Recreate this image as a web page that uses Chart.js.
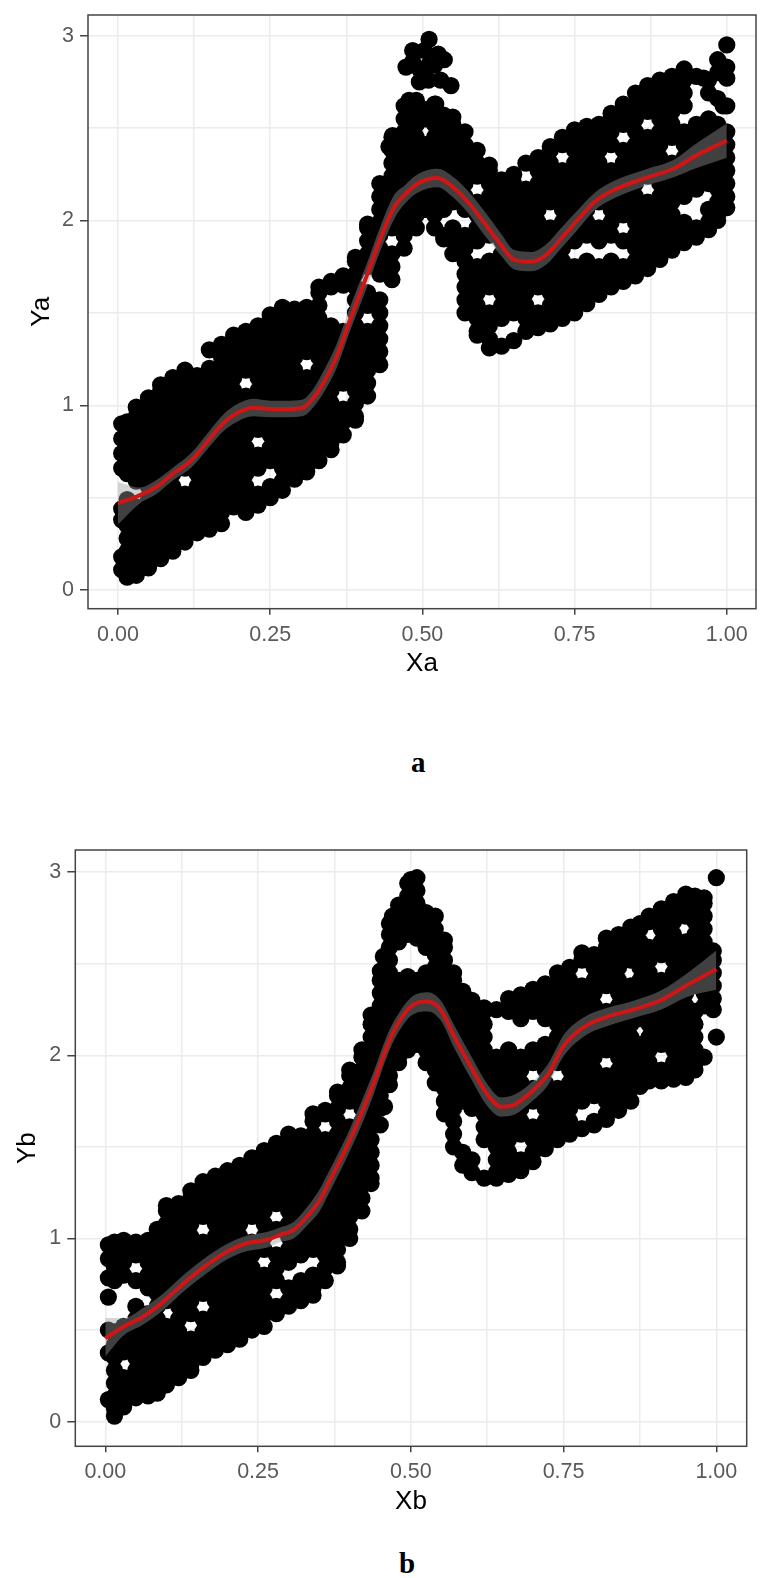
<!DOCTYPE html>
<html>
<head>
<meta charset="utf-8">
<script src="https://cdn.jsdelivr.net/npm/chart.js@4"></script>
<style>
html, body { margin: 0; background: #fff; }
body { position: relative; width: 761px; height: 1578px; overflow: hidden; }
canvas { position: absolute; left: 0; }
.cap { position: absolute; font: bold 29px "Liberation Serif", serif; color: #000; line-height: 32px; }
</style>
</head>
<body>
<canvas id="chartA" style="top:0"></canvas>
<canvas id="chartB" style="top:800px"></canvas>
<div class="cap" style="left:411px;top:746px">a</div>
<div class="cap" style="left:399px;top:1547px">b</div>
<script>
// ticks (same for both panels)
const xTicks = [0, .125, .25, .375, .5, .625, .75, .875, 1];
const xMajor = [0, .25, .5, .75, 1];
const yTicks = [0, .5, 1, 1.5, 2, 2.5, 3];
const yMajor = [0, 1, 2, 3];

// the dots merge into a solid cloud, so each row is [x, y, y, y...] read off the
// outline and the white gaps; values inside the black are estimates
const rowsA = [
[.006,.11,.18,.38,.44,.66,.74,.82,.9],
[.015,.07,.14,.21,.28,.35,.42,.49,.63,.7,.77,.84,.91],
[.03,.08,.1,.17,.24,.31,.38,.45,.59,.66,.73,.8,.87,.94,.99],
[.05,.12,.14,.21,.28,.35,.42,.49,.56,.63,.7,.77,.84,.91,.98,1.04],
[.07,.17,.24,.31,.38,.45,.52,.59,.66,.73,.8,.87,.94,1.01,1.08,1.11],
[.09,.21,.28,.35,.42,.49,.56,.63,.7,.77,.84,.91,.98,1.05,1.12,1.15],
[.11,.26,.31,.38,.45,.52,.66,.73,.8,.87,.94,1.01,1.08,1.15,1.19],
[.13,.31,.35,.42,.49,.56,.63,.7,.77,.84,.91,.98,1.05,1.12,1.16],
[.15,.33,.38,.45,.52,.59,.66,.73,.8,.87,.94,1.01,1.08,1.15,1.2,1.3],
[.17,.36,.42,.49,.56,.63,.7,.77,.84,.91,.98,1.05,1.12,1.19,1.26,1.33],
[.19,.45,.52,.59,.66,.73,.8,.87,.94,1.01,1.08,1.15,1.22,1.29,1.36,1.38],
[.21,.42,.49,.56,.63,.7,.77,.84,.91,.98,1.05,1.19,1.26,1.33,1.4],
[.23,.46,.52,.66,.73,.87,.94,1.01,1.08,1.15,1.22,1.29,1.36,1.43],
[.25,.5,.56,.7,.77,.84,.91,.98,1.05,1.12,1.19,1.26,1.33,1.4,1.47,1.49],
[.27,.54,.59,.66,.73,.8,.87,.94,1.01,1.08,1.15,1.22,1.29,1.36,1.43,1.5,1.53],
[.29,.6,.63,.7,.77,.84,.91,.98,1.05,1.12,1.19,1.26,1.33,1.4,1.47,1.52],
[.31,.64,.66,.73,.8,.87,.94,1.01,1.08,1.15,1.29,1.36,1.43,1.5,1.53],
[.33,.7,.77,.84,.91,.98,1.05,1.12,1.19,1.26,1.33,1.4,1.47,1.54,1.61,1.64],
[.35,.76,.8,.87,.94,1.01,1.08,1.15,1.22,1.29,1.36,1.43,1.64,1.67],
[.37,.84,.91,.98,1.12,1.19,1.26,1.33,1.4,1.65,1.7],
[.39,.92,.94,1.01,1.08,1.15,1.22,1.29,1.36,1.43,1.5,1.57,1.64,1.71,1.78,1.8],
[.41,1.05,1.12,1.19,1.26,1.33,1.4,1.54,1.61,1.75,1.82,1.89,1.96,1.98],
[.43,1.22,1.29,1.36,1.43,1.5,1.57,1.71,1.78,1.85,1.92,1.99,2.06,2.13,2.2],
[.45,1.68,1.75,1.82,1.96,2.03,2.1,2.17,2.24,2.31,2.38,2.45],
[.47,1.85,1.92,1.99,2.06,2.13,2.2,2.27,2.34,2.41,2.48,2.55,2.62],
[.49,1.96,2.03,2.1,2.17,2.24,2.31,2.38,2.45,2.52,2.59,2.65],
[.505,2.06,2.13,2.2,2.27,2.34,2.41,2.55,2.6],
[.52,1.96,2.03,2.1,2.17,2.24,2.31,2.38,2.45,2.52,2.59,2.63],
[.535,1.9,1.92,2.06,2.13,2.2,2.27,2.34,2.41,2.48,2.55,2.57],
[.55,1.82,1.89,1.96,2.1,2.17,2.24,2.31,2.38,2.45,2.52,2.56],
[.57,1.5,1.57,1.64,1.71,1.78,1.85,1.92,2.06,2.13,2.2,2.27,2.34,2.41,2.48],
[.59,1.38,1.4,1.47,1.54,1.61,1.68,1.75,1.89,1.96,2.03,2.1,2.24,2.31,2.38],
[.61,1.31,1.36,1.43,1.5,1.64,1.71,1.78,1.92,1.99,2.06,2.13,2.2,2.27,2.3],
[.63,1.32,1.47,1.54,1.61,1.68,1.75,1.82,1.89,1.96,2.03,2.1,2.17,2.22],
[.65,1.35,1.5,1.57,1.64,1.71,1.78,1.85,1.92,1.99,2.06,2.13,2.2,2.25],
[.67,1.4,1.47,1.54,1.61,1.68,1.75,1.82,1.89,1.96,2.03,2.1,2.17,2.31],
[.69,1.42,1.5,1.64,1.71,1.78,1.85,1.92,1.99,2.06,2.13,2.2,2.27,2.34],
[.71,1.44,1.47,1.54,1.61,1.68,1.75,1.82,1.89,1.96,2.1,2.17,2.24,2.31,2.38,2.4],
[.73,1.47,1.5,1.57,1.64,1.71,1.78,1.85,1.92,1.99,2.06,2.13,2.2,2.27,2.41,2.45],
[.75,1.5,1.54,1.61,1.68,1.75,1.89,1.96,2.03,2.1,2.17,2.24,2.31,2.38,2.45,2.49],
[.77,1.55,1.57,1.64,1.71,1.78,1.92,1.99,2.06,2.13,2.2,2.27,2.34,2.41,2.48,2.51],
[.79,1.6,1.61,1.68,1.75,1.89,1.96,2.1,2.17,2.24,2.31,2.38,2.45,2.52],
[.81,1.64,1.71,1.78,1.92,1.99,2.06,2.13,2.2,2.27,2.41,2.48,2.55,2.58],
[.83,1.67,1.75,1.89,2.03,2.1,2.17,2.24,2.31,2.38,2.52,2.59,2.63],
[.85,1.7,1.78,1.85,1.92,1.99,2.06,2.13,2.2,2.27,2.34,2.41,2.48,2.55,2.62,2.69],
[.87,1.74,1.82,1.89,1.96,2.03,2.1,2.24,2.31,2.38,2.45,2.59,2.66,2.73],
[.89,1.79,1.85,1.92,1.99,2.06,2.13,2.2,2.27,2.34,2.41,2.48,2.55,2.62,2.69,2.76],
[.91,1.84,1.89,1.96,2.03,2.1,2.17,2.24,2.31,2.45,2.52,2.59,2.66,2.73,2.78],
[.93,1.88,1.92,1.99,2.13,2.2,2.27,2.34,2.41,2.48,2.62,2.69,2.76,2.82],
[.95,1.91,1.96,2.17,2.24,2.31,2.38,2.45,2.52,2.78],
[.97,1.95,1.99,2.06,2.2,2.27,2.34,2.41,2.48,2.55,2.69,2.76],
[.985,2,2.03,2.1,2.17,2.24,2.31,2.38,2.45,2.52,2.66,2.8,2.87],
[1,2.07,2.13,2.2,2.27,2.34,2.41,2.48,2.62,2.77,2.83,2.95],
// peak
[.473,2.83],[.484,2.92,2.86],[.495,2.75,2.82],[.503,2.92],[.51,2.76,2.84],[.511,2.98],[.52,2.84],[.526,2.9],[.536,2.87],
[.53,2.76],[.547,2.73],[.478,2.65],[.522,2.63],[.445,2.4],[.451,2.46],[.962,2.77],[.994,2.62]
];

const rowsB = [
[.005,.12,.375,.5,.68,.785,.89,.965],
[.015,.03,.07,.14,.21,.28,.35,.42,.49,.77,.84,.91,.98],
[.03,.08,.1,.17,.24,.38,.45,.52,.8,.87,.94,.99],
[.05,.13,.14,.21,.28,.35,.42,.49,.56,.63,.77,.91,.98],
[.07,.14,.17,.24,.31,.38,.45,.52,.59,.73,.8,.87,.94,.99],
[.085,.155,.21,.28,.35,.42,.49,.56,.63,.7,.77,.84,.91,.98,1.05],
[.1,.2,.24,.31,.38,.45,.52,.66,.73,.8,.87,.94,1.01,1.08,1.15,1.18],
[.12,.24,.28,.35,.42,.49,.56,.63,.7,.77,.84,.91,.98,1.05,1.12,1.19],
[.14,.28,.31,.38,.45,.59,.66,.73,.8,.87,.94,1.01,1.08,1.15,1.22,1.26],
[.16,.35,.42,.49,.56,.7,.77,.84,.91,.98,1.12,1.19,1.26,1.31],
[.18,.39,.45,.52,.59,.66,.73,.8,.87,.94,1.01,1.08,1.15,1.22,1.29,1.34],
[.2,.42,.49,.56,.63,.7,.77,.84,.91,.98,1.05,1.12,1.19,1.26,1.33,1.37],
[.22,.45,.52,.59,.66,.73,.8,.87,.94,1.01,1.08,1.15,1.22,1.29,1.36,1.4],
[.24,.5,.56,.63,.7,.77,.84,.91,.98,1.12,1.19,1.26,1.33,1.4,1.44],
[.26,.52,.59,.66,.73,.8,.94,1.01,1.08,1.15,1.22,1.29,1.36,1.43,1.48],
[.28,.59,.63,.77,.84,.91,1.05,1.19,1.26,1.33,1.4,1.47,1.52],
[.3,.63,.66,.73,.87,.94,1.01,1.08,1.15,1.22,1.29,1.36,1.43,1.5,1.57],
[.32,.66,.7,.77,.91,.98,1.05,1.12,1.19,1.26,1.33,1.4,1.47,1.54,1.56],
[.34,.69,.73,.8,.94,1.01,1.08,1.15,1.22,1.29,1.36,1.43,1.5,1.57,1.64,1.68],
[.36,.77,.84,.91,.98,1.05,1.12,1.19,1.26,1.33,1.4,1.47,1.54,1.68,1.7],
[.38,.85,.87,.94,1.01,1.08,1.15,1.22,1.29,1.36,1.43,1.5,1.57,1.64,1.71,1.78,1.8],
[.4,1,1.05,1.12,1.19,1.26,1.33,1.4,1.47,1.54,1.61,1.75,1.82,1.89,1.92],
[.42,1.15,1.22,1.29,1.36,1.43,1.5,1.57,1.64,1.71,1.78,1.85,1.92,1.99,2.03],
[.435,1.3,1.33,1.4,1.47,1.54,1.61,1.68,1.75,1.82,1.89,1.96,2.03,2.1,2.17,2.22],
[.45,1.62,1.71,1.78,1.85,1.92,1.99,2.06,2.13,2.2,2.27,2.34,2.41,2.46],
[.465,1.84,1.89,1.96,2.03,2.1,2.17,2.24,2.31,2.38,2.45,2.52,2.59,2.66,2.72],
[.48,1.96,1.99,2.06,2.13,2.2,2.27,2.34,2.41,2.62,2.69,2.76,2.82],
[.495,2.03,2.1,2.17,2.24,2.31,2.38,2.43,2.66,2.73,2.8,2.87,2.94],
[.51,2.06,2.13,2.2,2.27,2.34,2.41,2.64,2.69,2.76,2.83,2.9,2.97],
[.525,1.96,2.03,2.1,2.17,2.24,2.31,2.38,2.45,2.59,2.66,2.73,2.78],
[.54,1.85,1.92,1.99,2.06,2.13,2.2,2.27,2.34,2.41,2.48,2.55,2.62,2.69,2.76],
[.555,1.68,1.75,1.82,1.89,1.96,2.03,2.1,2.17,2.24,2.31,2.38,2.45,2.52,2.59,2.63],
[.57,1.5,1.57,1.64,1.71,1.78,1.85,1.92,1.99,2.06,2.13,2.2,2.27,2.34,2.41,2.45],
[.585,1.4,1.47,1.75,1.82,1.89,1.96,2.03,2.1,2.17,2.24,2.31,2.35],
[.6,1.36,1.43,1.71,1.78,1.85,1.92,1.99,2.06,2.13,2.2,2.27,2.3],
[.62,1.33,1.54,1.61,1.68,1.75,1.82,1.89,1.96,2.03,2.1,2.17,2.24,2.26],
[.64,1.33,1.36,1.43,1.5,1.57,1.64,1.71,1.78,1.85,1.92,1.99,2.25],
[.66,1.35,1.4,1.47,1.54,1.61,1.68,1.75,1.82,1.89,1.96,2.03,2.24,2.31],
[.68,1.37,1.43,1.57,1.64,1.71,1.78,1.85,1.92,1.99,2.2,2.27,2.33],
[.7,1.42,1.47,1.54,1.61,1.75,1.82,1.96,2.03,2.24,2.31,2.36],
[.72,1.49,1.57,1.64,1.71,1.78,1.85,1.92,1.99,2.06,2.2,2.27,2.34,2.39],
[.74,1.54,1.61,1.68,1.75,1.82,1.96,2.03,2.1,2.17,2.24,2.31,2.38,2.45],
[.76,1.57,1.64,1.71,1.78,1.85,1.92,1.99,2.06,2.13,2.2,2.27,2.34,2.41,2.48],
[.78,1.6,1.75,1.82,1.89,1.96,2.03,2.1,2.17,2.24,2.31,2.38,2.52,2.56],
[.8,1.62,1.64,1.78,1.85,1.92,1.99,2.06,2.13,2.2,2.27,2.34,2.41,2.48,2.55],
[.82,1.65,1.68,1.75,1.82,1.89,2.03,2.1,2.17,2.24,2.38,2.45,2.52,2.59,2.64],
[.84,1.7,1.78,1.85,1.92,1.99,2.06,2.13,2.2,2.27,2.34,2.41,2.48,2.55,2.62,2.66],
[.86,1.75,1.82,1.89,1.96,2.03,2.1,2.17,2.24,2.31,2.38,2.52,2.59,2.66,2.7],
[.875,1.83,1.85,1.92,1.99,2.06,2.2,2.27,2.34,2.41,2.48,2.55,2.62,2.69,2.72],
[.89,1.86,1.89,1.96,2.03,2.1,2.17,2.24,2.31,2.38,2.45,2.52,2.59,2.73,2.76],
[.91,1.86,1.92,2.06,2.13,2.2,2.27,2.34,2.41,2.55,2.62,2.69,2.76,2.8],
[.93,1.87,1.89,1.96,2.03,2.1,2.17,2.24,2.31,2.38,2.45,2.52,2.59,2.66,2.73,2.8,2.84],
[.95,1.88,1.92,1.99,2.06,2.13,2.2,2.27,2.34,2.41,2.48,2.55,2.62,2.76,2.83,2.88],
[.965,1.92,1.96,2.03,2.1,2.17,2.24,2.38,2.45,2.52,2.59,2.66,2.73,2.8,2.87],
[.98,1.99,2.27,2.34,2.41,2.48,2.55,2.62,2.69,2.76,2.83,2.86],
[.995,2.25,2.31,2.38,2.45,2.52,2.57],
[1,2.1,2.97],
// peak edge
[.5,2.96],[.457,1.72],[.455,2.54],[.47,2.76]
];

// smooth fit and its band, panel a
const fitXa = [0,.036,.063,.091,.121,.151,.173,.195,.222,.25,.277,.302,.321,.34,.359,.381,.408,.43,.454,.471,.492,.525,.547,.575,.602,.629,.651,.679,.703,.728,.755,.783,.815,.865,.914,.947,1];
const fitYa = [.469,.514,.559,.632,.704,.821,.904,.957,.987,.98,.98,.985,1.04,1.137,1.263,1.462,1.696,1.895,2.075,2.139,2.2,2.23,2.19,2.1,1.986,1.868,1.787,1.778,1.814,1.904,2.003,2.102,2.166,2.229,2.283,2.347,2.433];
const hiYa = [.585,.555,.595,.665,.745,.865,.95,1.005,1.035,1.025,1.025,1.03,1.09,1.2,1.33,1.53,1.76,1.96,2.14,2.19,2.25,2.28,2.245,2.16,2.05,1.93,1.84,1.83,1.87,1.96,2.055,2.15,2.215,2.275,2.33,2.41,2.525];
const loYa = [.355,.47,.52,.595,.665,.78,.86,.91,.94,.935,.935,.94,.99,1.08,1.2,1.4,1.63,1.83,2.01,2.09,2.15,2.18,2.135,2.04,1.92,1.81,1.735,1.725,1.76,1.85,1.95,2.055,2.12,2.185,2.235,2.28,2.34];

// panel b
const fitXb = [0,.03,.062,.095,.128,.166,.199,.231,.264,.286,.308,.33,.351,.365,.395,.417,.439,.46,.473,.5,.528,.549,.571,.598,.626,.648,.669,.697,.724,.751,.784,.822,.866,.91,.953,1];
const fitYb = [.455,.519,.574,.655,.756,.856,.928,.974,.992,1.02,1.047,1.12,1.21,1.302,1.502,1.666,1.848,2.04,2.139,2.267,2.294,2.248,2.103,1.939,1.784,1.72,1.73,1.8,1.893,2.057,2.157,2.212,2.252,2.303,2.385,2.471];
const hiYb = [.566,.565,.62,.7,.8,.9,.97,1.015,1.035,1.06,1.09,1.17,1.27,1.36,1.56,1.73,1.91,2.1,2.19,2.315,2.345,2.3,2.165,2,1.84,1.77,1.785,1.85,1.95,2.115,2.21,2.26,2.3,2.355,2.45,2.572];
const loYb = [.355,.47,.53,.61,.71,.81,.885,.93,.95,.98,1,1.07,1.15,1.24,1.44,1.6,1.785,1.985,2.085,2.215,2.24,2.19,2.04,1.875,1.72,1.665,1.675,1.745,1.835,2,2.105,2.16,2.205,2.25,2.32,2.358];

const GRID = '#ececec';
const DARK = '#444444';
const TICKTEXT = '#5a5a5a';

function toPoints(rows) {
    return rows.flatMap(r => r.slice(1).map(y => ({ x: r[0], y: y })));
}

function zipXY(xs, ys) {
    return xs.map((x, i) => ({ x: x, y: ys[i] }));
}

// panel border goes round all four sides
const framePlugin = {
    id: 'frame',
    afterDatasetsDraw(chart) {
        const a = chart.chartArea;
        const ctx = chart.ctx;
        ctx.save();
        ctx.strokeStyle = DARK;
        ctx.lineWidth = 1.5;
        ctx.strokeRect(a.left, a.top, a.right - a.left, a.bottom - a.top);
        ctx.restore();
    }
};

function drawPanel(id, p) {
    const canvas = document.getElementById(id);
    canvas.style.width = '761px';
    canvas.style.height = p.height + 'px';
    canvas.width = 761;
    canvas.height = p.height;

    new Chart(canvas, {
        type: 'scatter',
        plugins: [framePlugin],
        data: {
            datasets: [
                {
                    type: 'line',
                    data: zipXY(p.fitX, p.fitY),
                    borderColor: '#cf1515',
                    borderWidth: 4,
                    pointRadius: 0,
                    cubicInterpolationMode: 'monotone',
                    fill: false
                },
                {
                    type: 'line',
                    data: zipXY(p.fitX, p.hi),
                    borderWidth: 0,
                    pointRadius: 0,
                    cubicInterpolationMode: 'monotone',
                    backgroundColor: 'rgba(153,153,153,0.42)',
                    fill: '+1'
                },
                {
                    type: 'line',
                    data: zipXY(p.fitX, p.lo),
                    borderWidth: 0,
                    pointRadius: 0,
                    cubicInterpolationMode: 'monotone',
                    fill: false
                },
                {
                    data: toPoints(p.rows),
                    backgroundColor: '#000',
                    borderWidth: 0,
                    pointRadius: 8.6
                }
            ]
        },
        options: {
            responsive: false,
            animation: false,
            events: [],
            layout: { autoPadding: false, padding: { left: 0, top: p.top, right: 761 - p.right, bottom: 0 } },
            plugins: { legend: { display: false }, tooltip: { enabled: false } },
            scales: {
                x: {
                    type: 'linear',
                    min: p.xMin,
                    max: p.xMax,
                    afterBuildTicks: s => { s.ticks = xTicks.map(v => ({ value: v })); },
                    afterFit: s => { s.height = p.height - p.bottom; s.paddingLeft = 0; s.paddingRight = 0; },
                    border: { display: false },
                    grid: {
                        color: GRID,
                        lineWidth: 1.5,
                        tickLength: 6,
                        tickWidth: 1.5,
                        tickColor: c => (c.tick && xMajor.includes(c.tick.value) ? DARK : 'rgba(0,0,0,0)')
                    },
                    ticks: {
                        autoSkip: false,
                        maxRotation: 0,
                        padding: 7,
                        color: TICKTEXT,
                        font: { family: 'Liberation Sans', size: 21.5 },
                        callback: v => (xMajor.includes(v) ? v.toFixed(2) : '')
                    },
                    title: {
                        display: true,
                        text: p.xTitle,
                        color: '#000',
                        font: { family: 'Liberation Sans', size: 26 },
                        padding: { top: 0, bottom: p.xTitlePad }
                    }
                },
                y: {
                    type: 'linear',
                    min: p.yMin,
                    max: p.yMax,
                    afterBuildTicks: s => { s.ticks = yTicks.map(v => ({ value: v })); },
                    afterFit: s => { s.width = p.left; s.paddingTop = 0; s.paddingBottom = 0; },
                    border: { display: false },
                    grid: {
                        color: GRID,
                        lineWidth: 1.5,
                        tickLength: 8,
                        tickWidth: 1.5,
                        tickColor: c => (c.tick && yMajor.includes(c.tick.value) ? DARK : 'rgba(0,0,0,0)')
                    },
                    ticks: {
                        autoSkip: false,
                        padding: 6,
                        color: TICKTEXT,
                        font: { family: 'Liberation Sans', size: 21.5 },
                        callback: v => (yMajor.includes(v) ? String(v) : '')
                    },
                    title: {
                        display: true,
                        text: p.yTitle,
                        color: '#000',
                        font: { family: 'Liberation Sans', size: 26 },
                        padding: { top: p.yTitlePad, bottom: 0 }
                    }
                }
            }
        }
    });
}

drawPanel('chartA', {
    rows: rowsA, fitX: fitXa, fitY: fitYa, hi: hiYa, lo: loYa,
    xTitle: 'Xa', yTitle: 'Ya',
    height: 700, left: 88, right: 756, top: 15, bottom: 608.7,
    xMin: -.0493, xMax: 1.048, yMin: -.1008, yMax: 3.112,
    xTitlePad: 21, yTitlePad: 26
});

drawPanel('chartB', {
    rows: rowsB, fitX: fitXb, fitY: fitYb, hi: hiYb, lo: loYb,
    xTitle: 'Xb', yTitle: 'Yb',
    height: 730, left: 75.3, right: 746.7, top: 50, bottom: 646.3,
    xMin: -.0491, xMax: 1.0497, yMin: -.1349, yMax: 3.1214,
    xTitlePad: 12.7, yTitlePad: 12.7
});
</script>
</body>
</html>
